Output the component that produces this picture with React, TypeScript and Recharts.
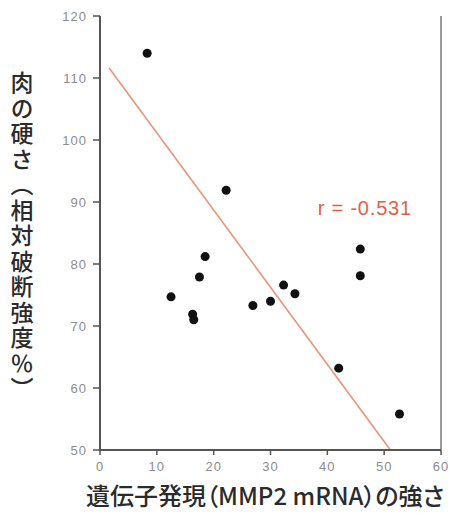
import React from 'react';
import { ScatterChart, Scatter, XAxis, YAxis, ReferenceLine, ReferenceDot } from 'recharts';

const mmp2Expression = [8.3, 12.5, 16.3, 16.5, 17.5, 18.5, 22.2, 26.9, 30.0, 32.3, 34.3, 42.0, 45.8, 45.8, 52.7];
const meatHardness = [114.0, 74.7, 71.9, 71.0, 77.9, 81.2, 91.9, 73.3, 74.0, 76.6, 75.2, 63.2, 82.4, 78.1, 55.8];
const xTicks = [0, 10, 20, 30, 40, 50, 60];
const yTicks = [50, 60, 70, 80, 90, 100, 110, 120];
const regressionStart = { x: 1.6, y: 111.6 };
const regressionEnd = { x: 51.1, y: 50 };
const rLabel = 'r = -0.531';
const rLabelPos = { x: 46.6, y: 89 };
const xLabel = '遺伝子発現（MMP2 mRNA）の強さ';
const yLabel = '肉の硬さ（相対破断強度％）';

const points = mmp2Expression.map((x, i) => ({ x, y: meatHardness[i] }));

const tickStyle = { fill: '#8c8c8c', fontSize: 13, fontFamily: 'Liberation Sans, Arial, sans-serif', letterSpacing: 1 };
const jpFont = '"Noto Sans CJK JP", sans-serif';

export default function App() {
  return (
    <div style={{ position: 'absolute', left: 0, top: 0, background: '#fff' }}>
      <ScatterChart width={451} height={513} margin={{ top: 16, right: 0, bottom: 0, left: 0 }}>
        <XAxis
          xAxisId="top"
          orientation="top"
          type="number"
          dataKey="x"
          domain={[0, 60]}
          height={0}
          tick={false}
          tickLine={false}
          axisLine={{ stroke: '#9a9a9a', strokeWidth: 2 }}
        />
        <YAxis
          yAxisId="right"
          orientation="right"
          type="number"
          dataKey="y"
          domain={[50, 120]}
          width={10}
          tick={false}
          tickLine={false}
          axisLine={{ stroke: '#9a9a9a', strokeWidth: 2 }}
        />
        <XAxis
          type="number"
          dataKey="x"
          domain={[0, 60]}
          ticks={xTicks}
          height={63}
          tickSize={5}
          tickMargin={7}
          tick={tickStyle}
          axisLine={{ stroke: '#555', strokeWidth: 2 }}
          tickLine={{ stroke: '#555', strokeWidth: 1.5 }}
          label={{
            content: () => (
              <text x={265} y={505} textAnchor="middle" fill="#2b2b2b" fontSize={24} fontFamily={jpFont} fontWeight={500} style={{ fontFeatureSettings: '"palt"' }}>
                {xLabel}
              </text>
            ),
          }}
        />
        <YAxis
          type="number"
          dataKey="y"
          domain={[50, 120]}
          ticks={yTicks}
          width={100}
          tickSize={7}
          tickMargin={6}
          tick={tickStyle}
          axisLine={{ stroke: '#555', strokeWidth: 2 }}
          tickLine={{ stroke: '#555', strokeWidth: 1.5 }}
          label={{
            content: () => (
              <text x={22} y={71} fill="#2b2b2b" fontSize={23} fontFamily={jpFont} fontWeight={500} style={{ writingMode: 'vertical-rl', letterSpacing: 2.5 }}>
                {yLabel}
              </text>
            ),
          }}
        />
        <ReferenceLine segment={[regressionStart, regressionEnd]} stroke="#e89478" strokeWidth={1.6} ifOverflow="visible" />
        <Scatter data={points} fill="#111" isAnimationActive={false} shape={(p: any) => <circle cx={p.cx} cy={p.cy} r={4.5} fill="#111" />} />
        <ReferenceDot
          x={rLabelPos.x}
          y={rLabelPos.y}
          r={0}
          ifOverflow="visible"
          label={{ value: rLabel, position: 'center', fill: '#e0633f', fontSize: 20, letterSpacing: 0.8, fontFamily: 'Liberation Sans, Arial, sans-serif' }}
        />
      </ScatterChart>
    </div>
  );
}
